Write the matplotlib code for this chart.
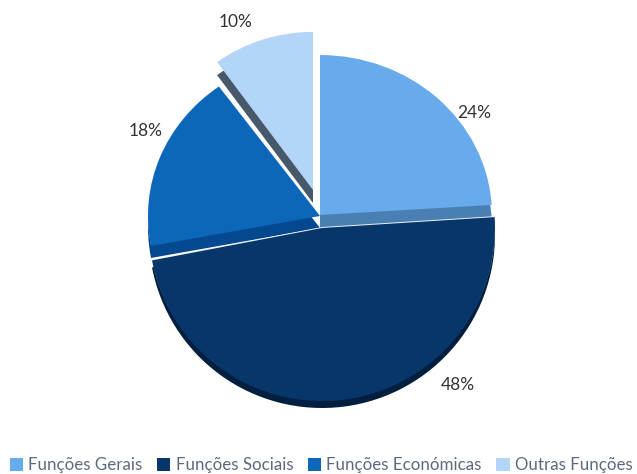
import matplotlib
matplotlib.use('Agg')
import matplotlib.pyplot as plt
from matplotlib.transforms import Affine2D

# data
labels = ['Funções Gerais', 'Funções Sociais', 'Funções Económicas', 'Outras Funções']
shares = [24, 48, 18, 10]
pct_labels = ['24%', '48%', '18%', '10%']

# styles, all positions in reference pixels
colors = ['#67abec', '#07376a', '#0c66b9', '#b3d5f7']
side_colors = ['#4a7fb3', '#021f3f', '#04488f', '#46586a']
centers = [(320, 215), (322, 228), (320, 216), (313, 190)]
xscales = [1.0, 1.0, 1.0, 0.96]
yscales = [0.93, 1.0, 0.93, 0.93]
depths = [13, 7, 12, 13]
radius = [172, 173, 172, 170]
highlight = [False, True, True, False]
label_pos = [(474, 113), (458, 385), (146, 131), (236, 22)]

W, H = 637, 474

plt.rcParams['font.family'] = ['Lato', 'DejaVu Sans']

fig = plt.figure(figsize=(W / 100, H / 100), dpi=100)
ax = fig.add_axes([0, 0, 1, 1])


def draw_slice(i, color, dy=0):
    # one pie per layer, the other slices are thrown away
    wedges, _ = ax.pie(shares, startangle=90, counterclock=False, radius=radius[i],
                       colors=[color] * len(shares), frame=False)
    for j, w in enumerate(wedges):
        if j != i:
            w.remove()
    cx, cy = centers[i]
    wedges[i].set_transform(Affine2D().scale(xscales[i], yscales[i]).translate(cx, H - cy - dy) + ax.transData)
    return wedges[i]


handles = []
# sides first, then highlight, then the top faces
for i in [0, 2, 3, 1]:
    draw_slice(i, side_colors[i], depths[i])
    if highlight[i]:
        draw_slice(i, '#e8eef5', -1.0)
    handles.append(draw_slice(i, colors[i]))

# order of the legend follows the data
order = [0, 3, 1, 2]
handles = [handles[k] for k in order]

ax.set_xlim(0, W)
ax.set_ylim(0, H)
ax.set_aspect('auto')
ax.axis('off')

for txt, (x, y) in zip(pct_labels, label_pos):
    ax.text(x, H - y, txt, ha='center', va='center', fontsize=12.5, color='#333333')

leg = ax.legend(handles, labels, loc='center', bbox_to_anchor=(321 / W, 1 - 465 / H), ncol=4,
                frameon=False, fontsize=12.2, handlelength=0.8, handleheight=0.8,
                handletextpad=0.3, columnspacing=0.85, labelcolor='#5b6b7f', borderpad=0)

fig.savefig('out.png', dpi=100)
